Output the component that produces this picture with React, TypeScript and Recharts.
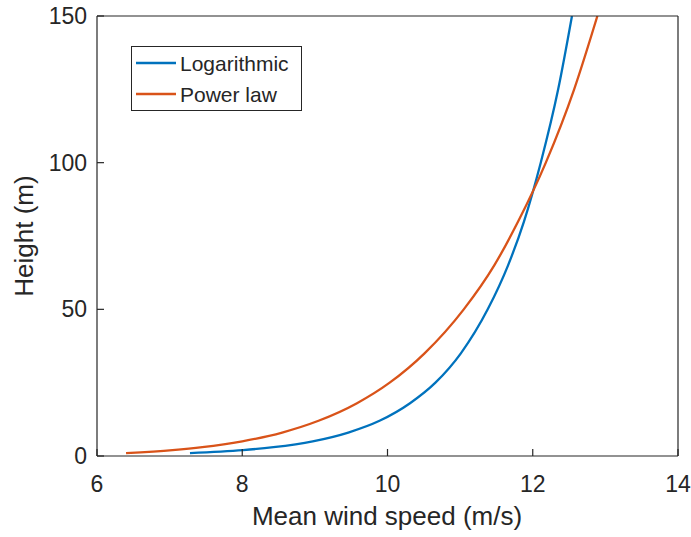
import { LineChart, Line, XAxis, YAxis } from 'recharts'

// wind profile: height (m) against mean wind speed (m/s)
const LOG_SPEED = [7.28, 8.01, 8.43, 8.97, 9.46, 9.89, 10.31, 10.66, 11.01, 11.38, 11.66, 11.88, 12.11, 12.35, 12.54]
const LOG_HEIGHT = [1, 2, 3, 5, 8, 12, 18, 25, 35, 50, 65, 80, 100, 125, 150]

const POW_SPEED = [6.4, 7.04, 7.45, 8.0, 8.55, 9.05, 9.58, 10.03, 10.51, 11.05, 11.47, 11.8, 12.18, 12.57, 12.89]
const POW_HEIGHT = [1, 2, 3, 5, 8, 12, 18, 25, 35, 50, 65, 80, 100, 125, 150]

const X_TICKS = [6, 8, 10, 12, 14]
const Y_TICKS = [0, 50, 100, 150]

const SERIES = [
  { name: 'Logarithmic', color: '#0072BD' },
  { name: 'Power law', color: '#D95319' },
]

const logData = LOG_SPEED.map((s, i) => ({ speed: s, height: LOG_HEIGHT[i] }))
const powData = POW_SPEED.map((s, i) => ({ speed: s, height: POW_HEIGHT[i] }))

const INK = '#262626'
const FONT = '"Liberation Sans", Arial, Helvetica, sans-serif'

// boxed legend drawn straight into the svg, top-left of the plot
function LegendBox() {
  return (
    <g fontFamily={FONT} fontSize={21} fill={INK}>
      <rect x={131.5} y={46.5} width={170} height={64} fill="#fff" stroke={INK} strokeWidth={1} />
      {SERIES.map((s, i) => (
        <g key={s.name}>
          <line x1={136} x2={176} y1={63 + i * 31} y2={63 + i * 31} stroke={s.color} strokeWidth={2.3} />
          <text x={180} y={63 + i * 31} dy="0.36em">
            {s.name}
          </text>
        </g>
      ))}
    </g>
  )
}

export default function App() {
  const axisLine = { stroke: INK, strokeWidth: 1.2 }
  const tickStyle = { fill: INK, fontSize: 23, fontFamily: FONT }
  return (
    <div style={{ position: 'absolute', left: 0, top: 0, background: '#fff' }}>
      <LineChart width={691} height={537} margin={{ top: 15, right: 12, bottom: 0, left: 0 }}>
        <XAxis
          xAxisId="b"
          dataKey="speed"
          type="number"
          domain={[6, 14]}
          ticks={X_TICKS}
          allowDataOverflow
          height={81}
          tickSize={-7}
          tickMargin={27}
          axisLine={axisLine}
          tickLine={axisLine}
          tick={tickStyle}
        />
        <XAxis
          xAxisId="t"
          orientation="top"
          dataKey="speed"
          type="number"
          domain={[6, 14]}
          ticks={X_TICKS}
          allowDataOverflow
          height={1}
          tickSize={-7}
          axisLine={axisLine}
          tickLine={axisLine}
          tick={false}
        />
        <YAxis
          yAxisId="l"
          dataKey="height"
          type="number"
          domain={[0, 150]}
          ticks={Y_TICKS}
          allowDataOverflow
          width={97}
          tickSize={-7}
          tickMargin={17}
          axisLine={axisLine}
          tickLine={axisLine}
          tick={tickStyle}
        />
        <YAxis
          yAxisId="r"
          orientation="right"
          dataKey="height"
          type="number"
          domain={[0, 150]}
          ticks={Y_TICKS}
          allowDataOverflow
          width={1}
          tickSize={-7}
          axisLine={axisLine}
          tickLine={axisLine}
          tick={false}
        />
        {/* invisible series so the top and right box axes get registered */}
        <Line
          xAxisId="t"
          yAxisId="r"
          data={logData}
          dataKey="height"
          stroke="none"
          dot={false}
          activeDot={false}
          legendType="none"
          isAnimationActive={false}
        />
        <Line
          xAxisId="b"
          yAxisId="l"
          data={logData}
          dataKey="height"
          name={SERIES[0].name}
          type="monotone"
          stroke={SERIES[0].color}
          strokeWidth={2.3}
          dot={false}
          isAnimationActive={false}
        />
        <Line
          xAxisId="b"
          yAxisId="l"
          data={powData}
          dataKey="height"
          name={SERIES[1].name}
          type="monotone"
          stroke={SERIES[1].color}
          strokeWidth={2.3}
          dot={false}
          isAnimationActive={false}
        />
        <LegendBox />
        <text x={387} y={525} textAnchor="middle" fill={INK} fontSize={26} fontFamily={FONT}>
          Mean wind speed (m/s)
        </text>
        <text x={33} y={236} textAnchor="middle" fill={INK} fontSize={26} fontFamily={FONT} transform="rotate(-90 33 236)">
          Height (m)
        </text>
      </LineChart>
    </div>
  )
}
